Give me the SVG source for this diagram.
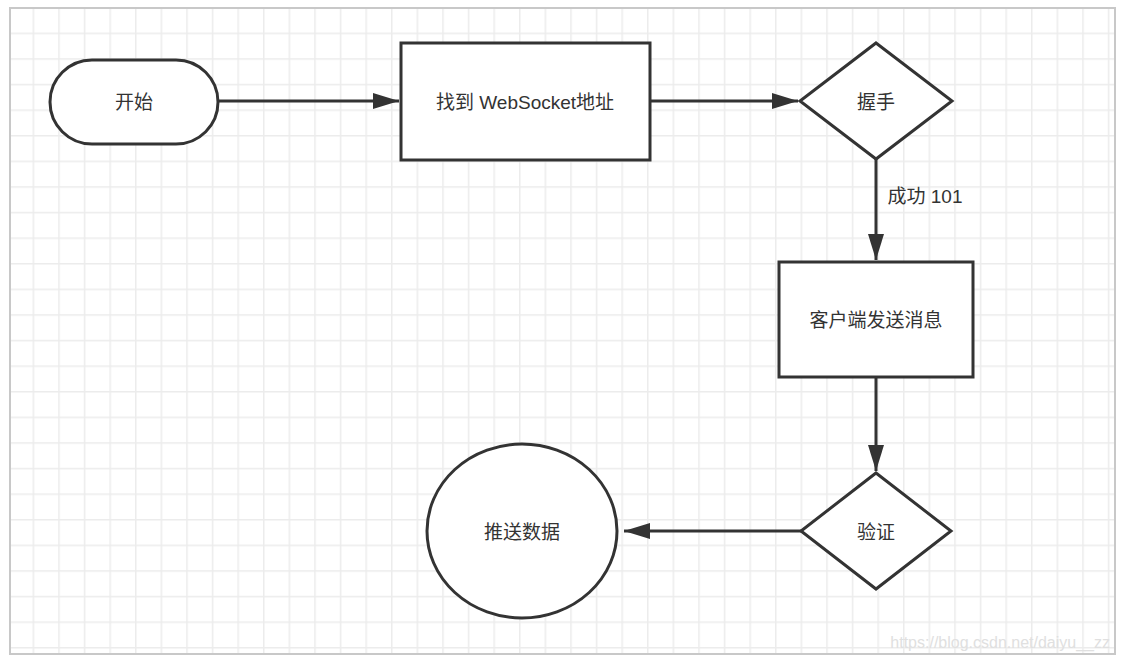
<svg xmlns="http://www.w3.org/2000/svg" width="1124" height="663" viewBox="0 0 1124 663">
<defs>
<pattern id="g" x="7" y="7" width="25.6" height="25.6" patternUnits="userSpaceOnUse">
<path d="M0.5 0V25.6M0 0.5H25.6" fill="none" stroke="#ececec" stroke-width="2"/>
</pattern>
<marker id="a" viewBox="0 0 10 10" refX="10" refY="5" markerWidth="8" markerHeight="8" markerUnits="userSpaceOnUse" orient="auto">
<path d="M0 0L10 5L0 10z" fill="#333"/>
</marker>
<marker id="A" viewBox="0 0 10 10" refX="10" refY="5" markerWidth="26" markerHeight="16" markerUnits="userSpaceOnUse" orient="auto" preserveAspectRatio="none">
<path d="M0 0L10 5L0 10z" fill="#333"/>
</marker>
</defs>
<style>
.s{fill:#fff;stroke:#333;stroke-width:3}
.t{font-family:"Liberation Sans","Noto Sans CJK SC",sans-serif;font-size:19px;fill:#333;text-anchor:middle;dominant-baseline:central}
.c{stroke:#333;stroke-width:3;fill:none;marker-end:url(#A)}
</style>
<rect x="0" y="0" width="1124" height="663" fill="#fff"/>
<rect x="10" y="8" width="1105" height="646" fill="url(#g)" stroke="#c8c8c8" stroke-width="2"/>
<g id="connectors">
<line class="c" x1="218" y1="101" x2="399" y2="101"/>
<line class="c" x1="650" y1="101" x2="798" y2="101"/>
<line class="c" x1="876" y1="159" x2="876" y2="260"/>
<line class="c" x1="876" y1="377" x2="876" y2="471"/>
<line class="c" x1="801" y1="531" x2="624" y2="531"/>
<text class="t" x="925" y="196">成功 101</text>
</g>
<g id="start"><rect class="s" x="50" y="60" width="168" height="84" rx="42"/><text class="t" x="134" y="102">开始</text></g>
<g id="find"><rect class="s" x="401" y="43" width="249" height="117"/><text class="t" x="525" y="102">找到 WebSocket地址</text></g>
<g id="handshake"><polygon class="s" points="876,43 952,101 876,159 800,101"/><text class="t" x="876" y="102">握手</text></g>
<g id="client"><rect class="s" x="779" y="262" width="194" height="115"/><text class="t" x="876" y="320">客户端发送消息</text></g>
<g id="verify"><polygon class="s" points="876,473 951,531 876,589 801,531"/><text class="t" x="876" y="532">验证</text></g>
<g id="push"><ellipse class="s" cx="522" cy="531" rx="95" ry="87"/><text class="t" x="522" y="532">推送数据</text></g>
<text x="1110" y="648" font-family="Liberation Sans,sans-serif" font-size="16" fill="#e0e0e0" text-anchor="end">https://blog.csdn.net/daiyu__zz</text>
</svg>
